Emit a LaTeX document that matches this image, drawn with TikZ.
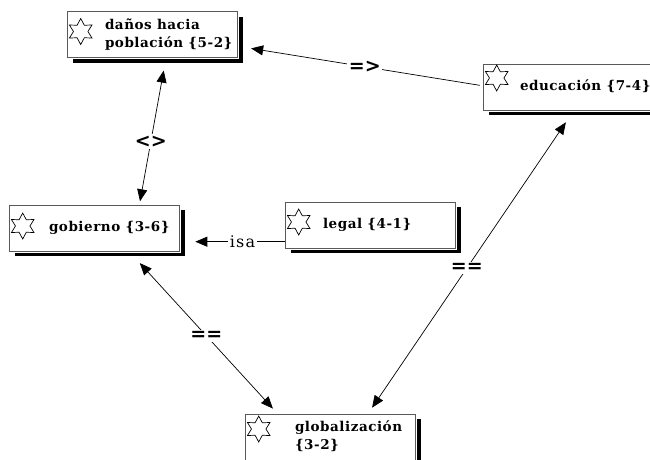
\documentclass[tikz,border=0pt]{standalone}
\usepackage{fontspec}
\setmainfont{Liberation Serif}
\newfontfamily\conceptfont[LetterSpace=4]{DejaVu Serif}
\newfontfamily\isafont[LetterSpace=8]{DejaVu Serif}
\newfontfamily\relfont{DejaVu Sans}
\usetikzlibrary{arrows.meta,shadows,shapes.geometric}
\tikzset{->/.style = {-{Triangle[length=12pt,width=10pt]}}}
\tikzset{<->/.style = {{Triangle[length=12pt,width=10pt]}-{Triangle[length=12pt,width=10pt]}}}
\tikzset{staric/.style = {star, star points=6, star point ratio=1.8, draw, line width=.7pt, minimum size=26pt, inner sep=0pt}}
\newcommand{\concepto}[2][38pt]{\makebox[170pt][l]{\hspace*{#1}\begin{tabular}{@{}l@{}}#2\end{tabular}}}

\begin{document}
\begin{tikzpicture}[x=1pt,y=-1pt,
    concept/.style={draw=black!65, line width=.6pt, fill=white,
        minimum width=170pt, minimum height=46pt, inner sep=0pt,
        font={\conceptfont\bfseries\fontsize{13.5}{18.3}\selectfont},
        % black shadow down right, white gap round the box
        drop shadow={shadow xshift=6pt,shadow yshift=-5pt,fill=black,opacity=1},
        preaction={draw=white,line width=3pt}},
    rel/.style={font={\relfont\bfseries\fontsize{19}{19}\selectfont},
        fill=white, inner sep=1.5pt},
    isa/.style={font={\isafont\fontsize{16}{16}\selectfont},
        fill=white, inner xsep=2pt, inner ysep=0pt},
    ]
    \path[use as bounding box] (0,0) rectangle (650,459);
    \clip (0,0) rectangle (650,459);

    % Concepts
    \node[concept] (danos) at (152,34.5) {\concepto{daños hacia\\población \{5-2\}}};
    \node[concept] (educ) at (568,87) {\concepto[37pt]{educación \{7-4\}}};
    \node[concept] (gob) at (94,228) {\concepto[40pt]{gobierno \{3-6\}}};
    \node[concept] (legal) at (370,225) {\concepto{legal \{4-1\}}};
    \node[concept] (glob) at (330,437) {\concepto[50pt]{globalización\\\{3-2\}}};

    % Stars
    \foreach \n/\dy in {danos/3,educ/9,gob/2,legal/3,glob/8}
        \node[staric] (\n-star) at ([xshift=14pt,yshift=\dy pt]\n.west) {};

    % Links
    \draw[->,line width=.7pt,shorten <=3pt,shorten >=14pt]
        ([yshift=1.2pt]educ.west) -- ([yshift=-11.7pt]danos.east) node[rel,pos=.48] {=>};
    \draw[<->,line width=.7pt,shorten <=13pt,shorten >=3.5pt]
        ([xshift=14pt]danos.south) -- ([xshift=45.4pt]gob.north) node[rel,pos=.57] {<>};
    \draw[->,line width=.7pt,shorten >=16pt]
        ([yshift=-16.7pt]legal.west) -- ([yshift=-16.7pt]legal.west -| gob.east) node[isa,pos=.4] {isa};
    \draw[<->,line width=.7pt,shorten <=16pt,shorten >=7pt]
        ([xshift=35pt]gob.south) -- ([xshift=-52.4pt]glob.north) node[rel,pos=.52] {==};
    \draw[<->,line width=.7pt,shorten <=14.5pt,shorten >=7.3pt]
        ([xshift=6pt]educ.south) -- ([xshift=38pt]glob.north) node[rel,pos=.52] {==};

\end{tikzpicture}
\end{document}
